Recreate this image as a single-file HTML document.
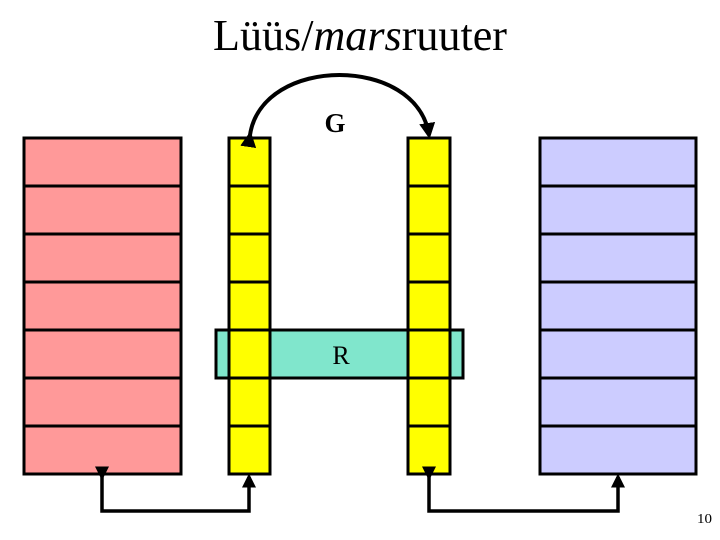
<!DOCTYPE html>
<html><head><meta charset="utf-8"><style>html,body{margin:0;padding:0;background:#fff;}svg{display:block;}</style></head>
<body>
<svg width="720" height="540" viewBox="0 0 720 540" xmlns="http://www.w3.org/2000/svg" font-family="Liberation Serif, serif">
<defs>
<marker id="ah" markerWidth="4" markerHeight="4" refX="3" refY="2" orient="auto" markerUnits="strokeWidth">
<path d="M0,0 L4,2 L0,4 z" fill="#000"/>
</marker>
</defs>
<rect width="720" height="540" fill="#fff"/>
<text x="213" y="50" font-size="44" textLength="294" lengthAdjust="spacingAndGlyphs">Lüüs/<tspan font-style="italic">mars</tspan>ruuter</text>
<!-- red -->
<rect x="24" y="138" width="157" height="336" fill="#ff9999" stroke="#000" stroke-width="3"/>
<g stroke="#000" stroke-width="3">
<line x1="24" y1="186" x2="181" y2="186"/><line x1="24" y1="234" x2="181" y2="234"/><line x1="24" y1="282" x2="181" y2="282"/><line x1="24" y1="330" x2="181" y2="330"/><line x1="24" y1="378" x2="181" y2="378"/><line x1="24" y1="426" x2="181" y2="426"/>
</g>
<!-- blue -->
<rect x="540" y="138" width="156" height="336" fill="#ccccff" stroke="#000" stroke-width="3"/>
<g stroke="#000" stroke-width="3">
<line x1="540" y1="186" x2="696" y2="186"/><line x1="540" y1="234" x2="696" y2="234"/><line x1="540" y1="282" x2="696" y2="282"/><line x1="540" y1="330" x2="696" y2="330"/><line x1="540" y1="378" x2="696" y2="378"/><line x1="540" y1="426" x2="696" y2="426"/>
</g>
<!-- teal -->
<rect x="216" y="330" width="247" height="48" fill="#80e6cc" stroke="#000" stroke-width="3"/>
<!-- yellow columns -->
<rect x="229" y="138" width="41" height="336" fill="#ffff00" stroke="#000" stroke-width="3"/>
<rect x="408" y="138" width="42" height="336" fill="#ffff00" stroke="#000" stroke-width="3"/>
<g stroke="#000" stroke-width="3">
<line x1="229" y1="186" x2="270" y2="186"/><line x1="229" y1="234" x2="270" y2="234"/><line x1="229" y1="282" x2="270" y2="282"/><line x1="229" y1="330" x2="270" y2="330"/><line x1="229" y1="378" x2="270" y2="378"/><line x1="229" y1="426" x2="270" y2="426"/>
<line x1="408" y1="186" x2="450" y2="186"/><line x1="408" y1="234" x2="450" y2="234"/><line x1="408" y1="282" x2="450" y2="282"/><line x1="408" y1="330" x2="450" y2="330"/><line x1="408" y1="378" x2="450" y2="378"/><line x1="408" y1="426" x2="450" y2="426"/>
</g>
<text x="335" y="132" font-size="27" font-weight="bold" text-anchor="middle">G</text>
<text x="341" y="364" font-size="26" text-anchor="middle">R</text>
<!-- arc -->
<path d="M250,135 C262,55 417,55 429,135" fill="none" stroke="#000" stroke-width="4" marker-start="url(#ah)" marker-end="url(#ah)"/>
<!-- bottom connectors -->
<path d="M102,477 L102,511 L249,511 L249,477" fill="none" stroke="#000" stroke-width="3.5" marker-start="url(#ah)" marker-end="url(#ah)"/>
<path d="M429,477 L429,511 L618,511 L618,477" fill="none" stroke="#000" stroke-width="3.5" marker-start="url(#ah)" marker-end="url(#ah)"/>
<text x="697" y="523" font-size="14" textLength="15" lengthAdjust="spacingAndGlyphs">10</text>
</svg>
</body></html>
